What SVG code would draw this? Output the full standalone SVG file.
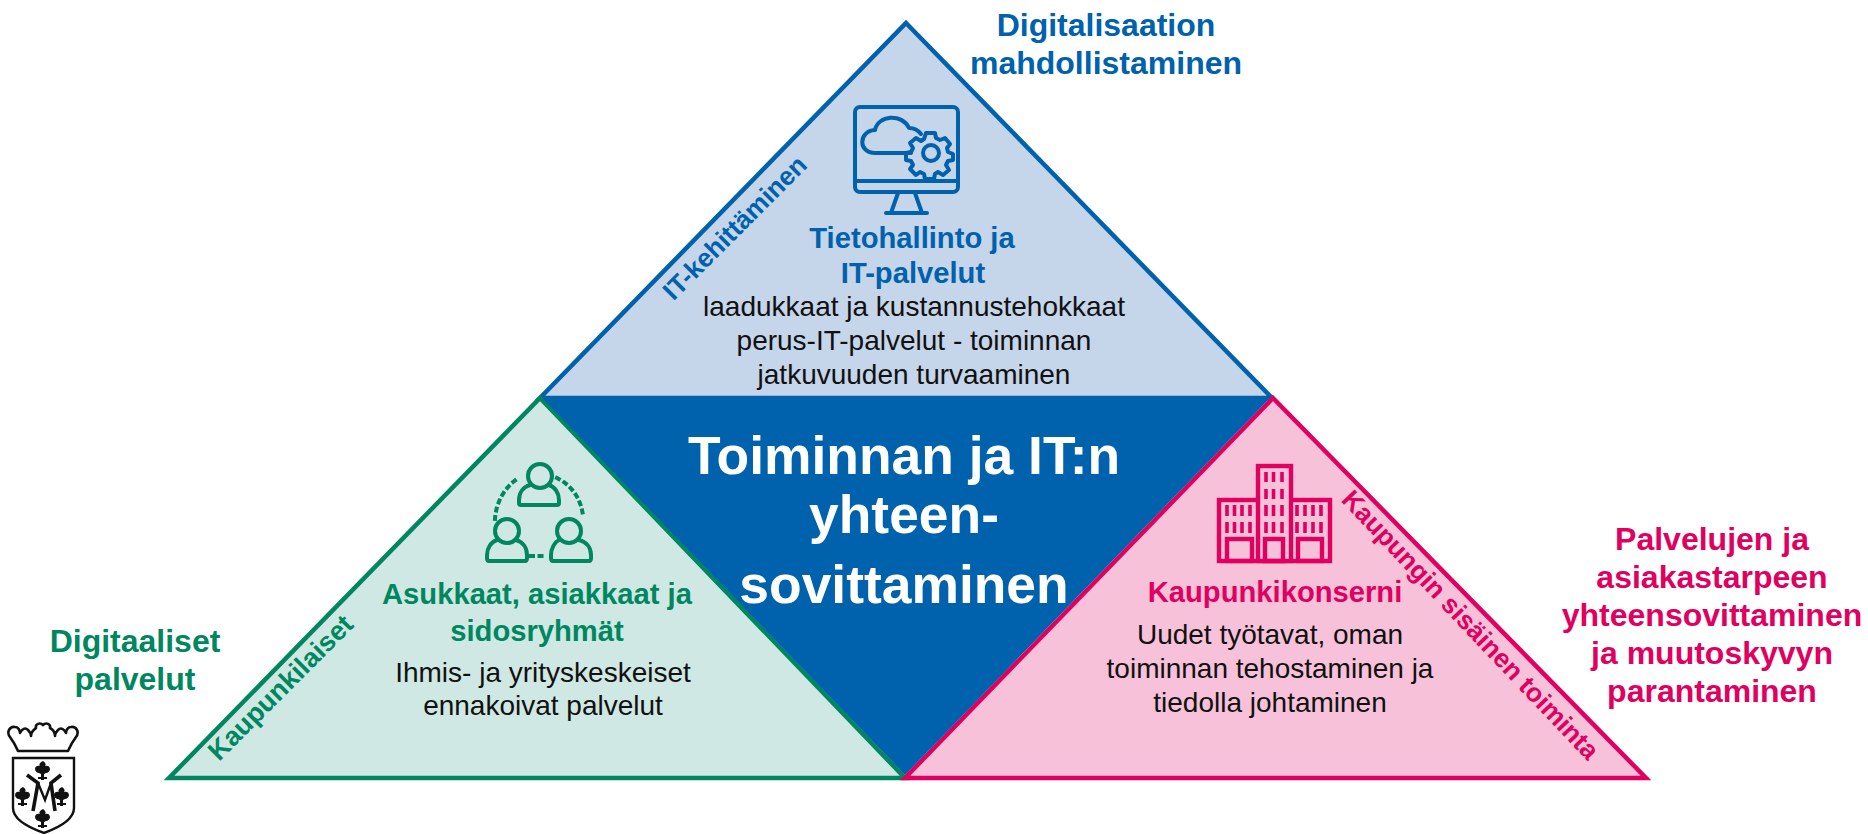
<svg xmlns="http://www.w3.org/2000/svg" width="1868" height="834" viewBox="0 0 1868 834">
<style>
text{font-family:"Liberation Sans",Arial,sans-serif;text-anchor:middle}
.b{font-weight:bold}
.blue{fill:#0061ad}.green{fill:#00875f}.pink{fill:#e0005f}
.body{font-size:28px;fill:#111}
.h{font-size:29.2px;font-weight:bold}
.o{font-size:32px;font-weight:bold}
.ic{fill:none;stroke-width:4;stroke-linejoin:round;stroke-linecap:round}
</style>
<rect width="1868" height="834" fill="#fff"/>
<g id="triangle-top"><polygon points="906,23 1272,398 540,398" fill="#c5d5ea" stroke="#0061ad" stroke-width="4.5"/></g>
<g id="triangle-left"><polygon points="540,398 905,778 169,778" fill="#cfe8e3" stroke="#00875f" stroke-width="4.5"/></g>
<g id="triangle-right"><polygon points="1273,398 1646,778 905,778" fill="#f7c1d9" stroke="#e0005f" stroke-width="4.5"/></g>
<g id="triangle-center"><polygon points="543,399 1269,399 905,775" fill="#0061ad"/>
<text x="904" y="474" class="b" font-size="53.4" fill="#fff">Toiminnan ja IT:n</text>
<text x="904" y="533" class="b" font-size="53.4" fill="#fff">yhteen-</text>
<text x="904" y="603" class="b" font-size="53.4" fill="#fff">sovittaminen</text></g>
<g id="top-node">
<g class="ic" stroke="#0061ad">
<rect x="855" y="107" width="103" height="85" rx="5"/>
<path d="M855 181H958M898 193L891 213M915 193L922 213M886 213H927"/>
<path d="M911 153H875C858 153 858 131 875 130C878 115 902 113 909 128C914 128 918 130 921 134"/>
<circle cx="931" cy="153" r="8"/>
<path d="M926 133h9l1 5 4 2 5-2 5 6-3 4 1 4 5 2v6l-5 1-2 4 3 5-6 5-5-3-3 2-1 5h-9l-1-5-4-2-4 3-6-6 3-4-2-4-5-1v-7l5-1 2-4-3-5 6-5 5 3 3-2z"/>
</g>
<text x="912" y="248" class="h blue">Tietohallinto ja</text>
<text x="913" y="283" class="h blue">IT-palvelut</text>
<text x="914" y="316" class="body">laadukkaat ja kustannustehokkaat</text>
<text x="914" y="350" class="body">perus-IT-palvelut - toiminnan</text>
<text x="914" y="384" class="body">jatkuvuuden turvaaminen</text>
</g>
<g id="left-node">
<g class="ic" stroke="#00875f">
<circle cx="540" cy="476" r="12"/><path d="M530 485C523 487 519 493 519 500V503Q519 505 521 505H557Q559 505 559 503V500C559 493 555 487 549 485"/>
<circle cx="507" cy="531" r="12"/><path d="M497 540C491 542 487 548 487 555V558Q487 561 489 561H525Q527 561 527 558V555C527 548 523 542 516 540"/>
<circle cx="569" cy="531" r="12"/><path d="M559 540C555 542 551 548 551 555V558Q551 561 553 561H589Q591 561 591 558V555C591 548 587 542 579 540"/>
<path d="M495 519C496 503 504 488 517 479M557 478C571 485 581 498 583 516M531 556H548" stroke-dasharray="2 6.5" stroke-linecap="square"/>
</g>
<text x="537" y="604" class="h green">Asukkaat, asiakkaat ja</text>
<text x="537" y="641" class="h green">sidosryhmät</text>
<text x="543" y="682" class="body">Ihmis- ja yrityskeskeiset</text>
<text x="543" y="715" class="body">ennakoivat palvelut</text>
</g>
<g id="right-node">
<g class="ic" stroke="#e0005f" style="stroke-linejoin:miter;stroke-linecap:butt;stroke-width:4.4">
<rect x="1219" y="500" width="111" height="61"/>
<rect x="1258" y="466" width="33" height="95" fill="#f7c1d9"/>
<rect x="1227" y="539" width="25" height="22"/><rect x="1265" y="539" width="18" height="22"/><rect x="1298" y="539" width="24" height="22"/>
<path style="stroke-width:3.6" d="M1266 472v10M1273.500 472v10M1282 472v10M1266 489v10M1273.500 489v10M1282 489v10M1266 505v11M1273.500 505v11M1282 505v11M1266 522v11M1273.500 522v11M1282 522v11M1227 505v11M1234.500 505v11M1242 505v11M1250 505v11M1227 522v11M1234.500 522v11M1242 522v11M1250 522v11M1297 505v11M1305 505v11M1313 505v11M1321 505v11M1297 522v11M1305 522v11M1313 522v11M1321 522v11"/>
</g>
<text x="1275" y="602" class="h pink">Kaupunkikonserni</text>
<text x="1270" y="644" class="body">Uudet työtavat, oman</text>
<text x="1270" y="678" class="body">toiminnan tehostaminen ja</text>
<text x="1270" y="712" class="body">tiedolla johtaminen</text>
</g>
<g id="side-labels">
<text transform="translate(741,234) rotate(-45)" class="b blue" font-size="26">IT-kehittäminen</text>
<text transform="translate(287,694) rotate(-45)" class="b green" font-size="27">Kaupunkilaiset</text>
<text transform="translate(1464,631) rotate(46.500)" class="b pink" font-size="26.300">Kaupungin sisäinen toiminta</text>
</g>
<g id="outer-labels">
<text x="1106" y="36" class="o blue">Digitalisaation</text>
<text x="1106" y="74" class="o blue">mahdollistaminen</text>
<text x="135" y="652" class="o green">Digitaaliset</text>
<text x="135" y="690" class="o green">palvelut</text>
<text x="1712" y="550" class="o pink">Palvelujen ja</text>
<text x="1712" y="588" class="o pink">asiakastarpeen</text>
<text x="1712" y="626" class="o pink">yhteensovittaminen</text>
<text x="1712" y="664" class="o pink">ja muutoskyvyn</text>
<text x="1712" y="702" class="o pink">parantaminen</text>
</g>
<g id="logo" fill="none" stroke="#111">
<path d="M18 751C15 744 13 741 10 737C6 732 10 726 15 727C18 727 20 730 20 733C22 729 25 727 28 730C30 732 31 734 31 736C31 731 35 729 36 728C35 724 40 722 43 725C46 722 51 724 50 728C52 729 55 731 55 736C55 734 56 732 58 730C61 727 64 729 66 733C66 730 68 727 71 727C76 726 80 732 76 737C73 741 71 744 68 751Z" stroke-width="2.6" stroke-linejoin="round"/>
<path d="M13 758H74V808Q74 822 44 833Q13 822 13 808Z" stroke-width="2.4"/>
<path d="M27 775L38 783L33 811M61 775L51 783L55 811" stroke-width="3.6"/>
<path d="M38 783L45 800L51 783" stroke-width="2.4"/>
<g fill="#111" stroke="none"><path id="f" d="M43 761c3 2 3 4 2 5c2-1 5 0 5 3c0 2-2 4-4 4l-2 1v3h3v2h-3v1h-3v-1h-3v-2h3v-3l-2-1c-2 0-4-2-4-4c0-3 3-4 5-3c-1-1-1-3 3-5z"/><use href="#f" x="-20" y="26"/><use href="#f" x="19" y="26"/><use href="#f" x="0" y="48"/></g>
</g>
</svg>
